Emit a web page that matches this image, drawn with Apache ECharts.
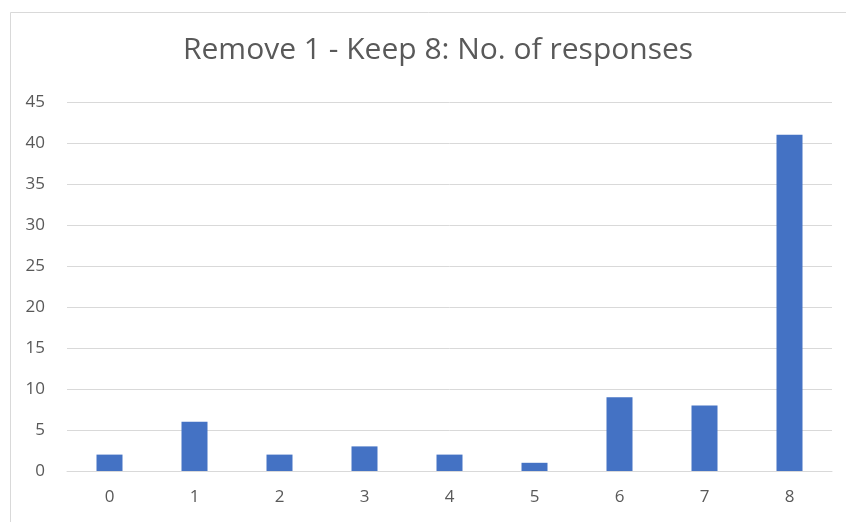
<!DOCTYPE html>
<html><head><meta charset="utf-8">
<script src="https://cdn.jsdelivr.net/npm/echarts@6/dist/echarts.min.js"></script>
<style>html,body{margin:0;padding:0;background:#fff}#c{width:846px;height:522px}</style>
</head><body><div id="c"></div>
<script>
var categories = ['0','1','2','3','4','5','6','7','8'];
var responses = [2, 6, 2, 3, 2, 1, 9, 8, 41];
var yTicks = {min: 0, max: 45, interval: 5};
var titleText = 'Remove 1 - Keep 8: No. of responses';

var chart = echarts.init(document.getElementById('c'));
chart.setOption({
  animation: false,
  backgroundColor: '#fff',
  graphic: [{
    type: 'rect', left: 8, top: 10,
    shape: {width: 900, height: 600},
    style: {fill: 'none', stroke: '#d9d9d9', lineWidth: 1}
  }],
  title: {
    text: titleText, left: 178, top: 30,
    textStyle: {fontFamily: 'Open Sans', fontSize: 30, fontWeight: 'normal', color: '#595959'}
  },
  grid: {left: 67, right: 14, top: 102, bottom: 51, containLabel: false},
  xAxis: {
    type: 'category', data: categories,
    axisLine: {show: true, lineStyle: {color: '#d9d9d9'}},
    axisTick: {show: false},
    axisLabel: {fontFamily: 'Open Sans', fontSize: 17, color: '#595959', margin: 18}
  },
  yAxis: {
    type: 'value', min: yTicks.min, max: yTicks.max, interval: yTicks.interval,
    axisLine: {show: false}, axisTick: {show: false},
    splitLine: {lineStyle: {color: '#d9d9d9', width: 1}},
    axisLabel: {fontFamily: 'Open Sans', fontSize: 17, color: '#595959', margin: 22}
  },
  series: [{
    type: 'bar', data: responses, barWidth: 26,
    itemStyle: {color: '#4472C4'}
  }]
});
</script></body></html>
